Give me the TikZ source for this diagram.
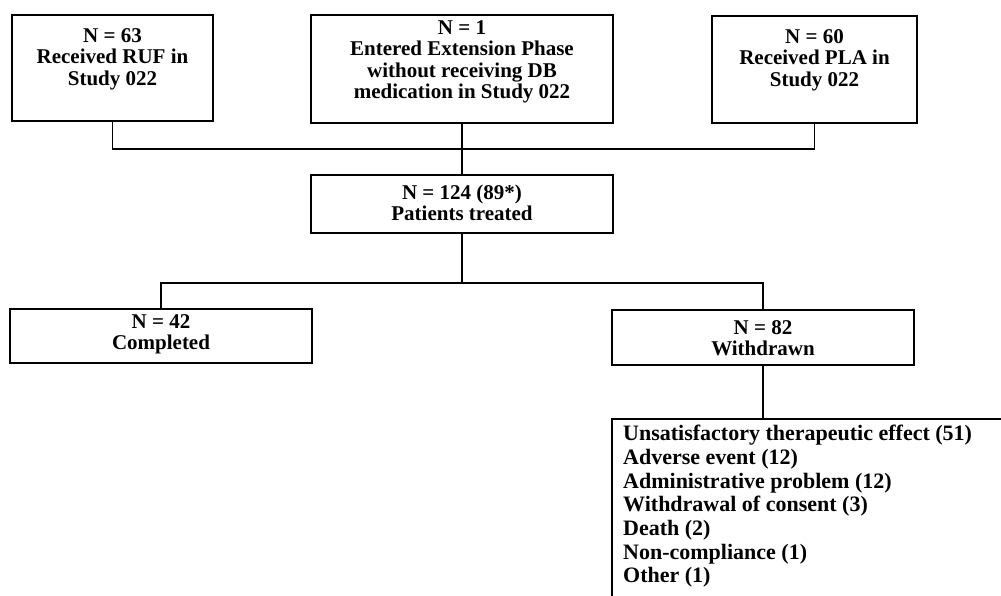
\documentclass[tikz,border=0pt]{standalone}
\usepackage{fontspec}
\setmainfont{Liberation Serif}
\begin{document}
\begin{tikzpicture}[x=1pt,y=-1pt,
  box/.style={draw, line width=1.8pt, rectangle, inner sep=0pt},
  txt/.style={align=center, font=\fontsize{21}{21.5}\selectfont\bfseries, inner sep=0pt},
  ltxt/.style={align=left, font=\fontsize{22}{23.7}\selectfont\bfseries, inner sep=0pt, anchor=north west},
  conn/.style={line width=1.8pt}]
\useasboundingbox (0,0) rectangle (1001,596);
% top row
\node[box, minimum width=201pt, minimum height=106pt] (b1) at (112.5,68) {};
\node[txt] (t1) at (112.5,59) {N = 63\\Received RUF in\\Study 022};
\node[box, minimum width=302pt, minimum height=108pt] (b2) at (462,69) {};
\node[txt] (t2) at (462,62) {N = 1\\Entered Extension Phase\\without receiving DB\\medication in Study 022};
\node[box, minimum width=205pt, minimum height=107pt] (b3) at (814.5,69.5) {};
\node[txt] (t3) at (814.5,60) {N = 60\\Received PLA in\\Study 022};
% treated
\node[box, minimum width=302pt, minimum height=58pt] (b4) at (462,204) {};
\node[txt] (t4) at (462,203) {N = 124 (89*)\\Patients treated};
% outcomes
\node[box, minimum width=302pt, minimum height=54pt] (b5) at (161,336) {};
\node[txt] (t5) at (161,334.5) {N = 42\\Completed};
\node[box, minimum width=302pt, minimum height=55pt] (b6) at (763,337.5) {};
\node[txt] (t6) at (763,338) {N = 82\\Withdrawn};
% reasons
\node[box, anchor=north west, minimum width=420pt, minimum height=200pt] (b7) at (611,418) {};
\node[ltxt] (t7) at (623,425) {Unsatisfactory therapeutic effect (51)\\Adverse event (12)\\Administrative problem (12)\\Withdrawal of consent (3)\\Death (2)\\Non-compliance (1)\\Other (1)};
% junctions
\coordinate (j1) at (462,149);
\coordinate (j2) at (462,283);
% connectors
\draw[conn] (b1.south) -- (b1.south |- j1) -- (b3.south |- j1) -- (b3.south);
\draw[conn] (b2.south) -- (b4.north);
\draw[conn] (b4.south) -- (j2);
\draw[conn] (b5.north) -- (b5.north |- j2) -- (b6.north |- j2) -- (b6.north);
\draw[conn] (b6.south) -- (b6.south |- b7.north);
\end{tikzpicture}
\end{document}
